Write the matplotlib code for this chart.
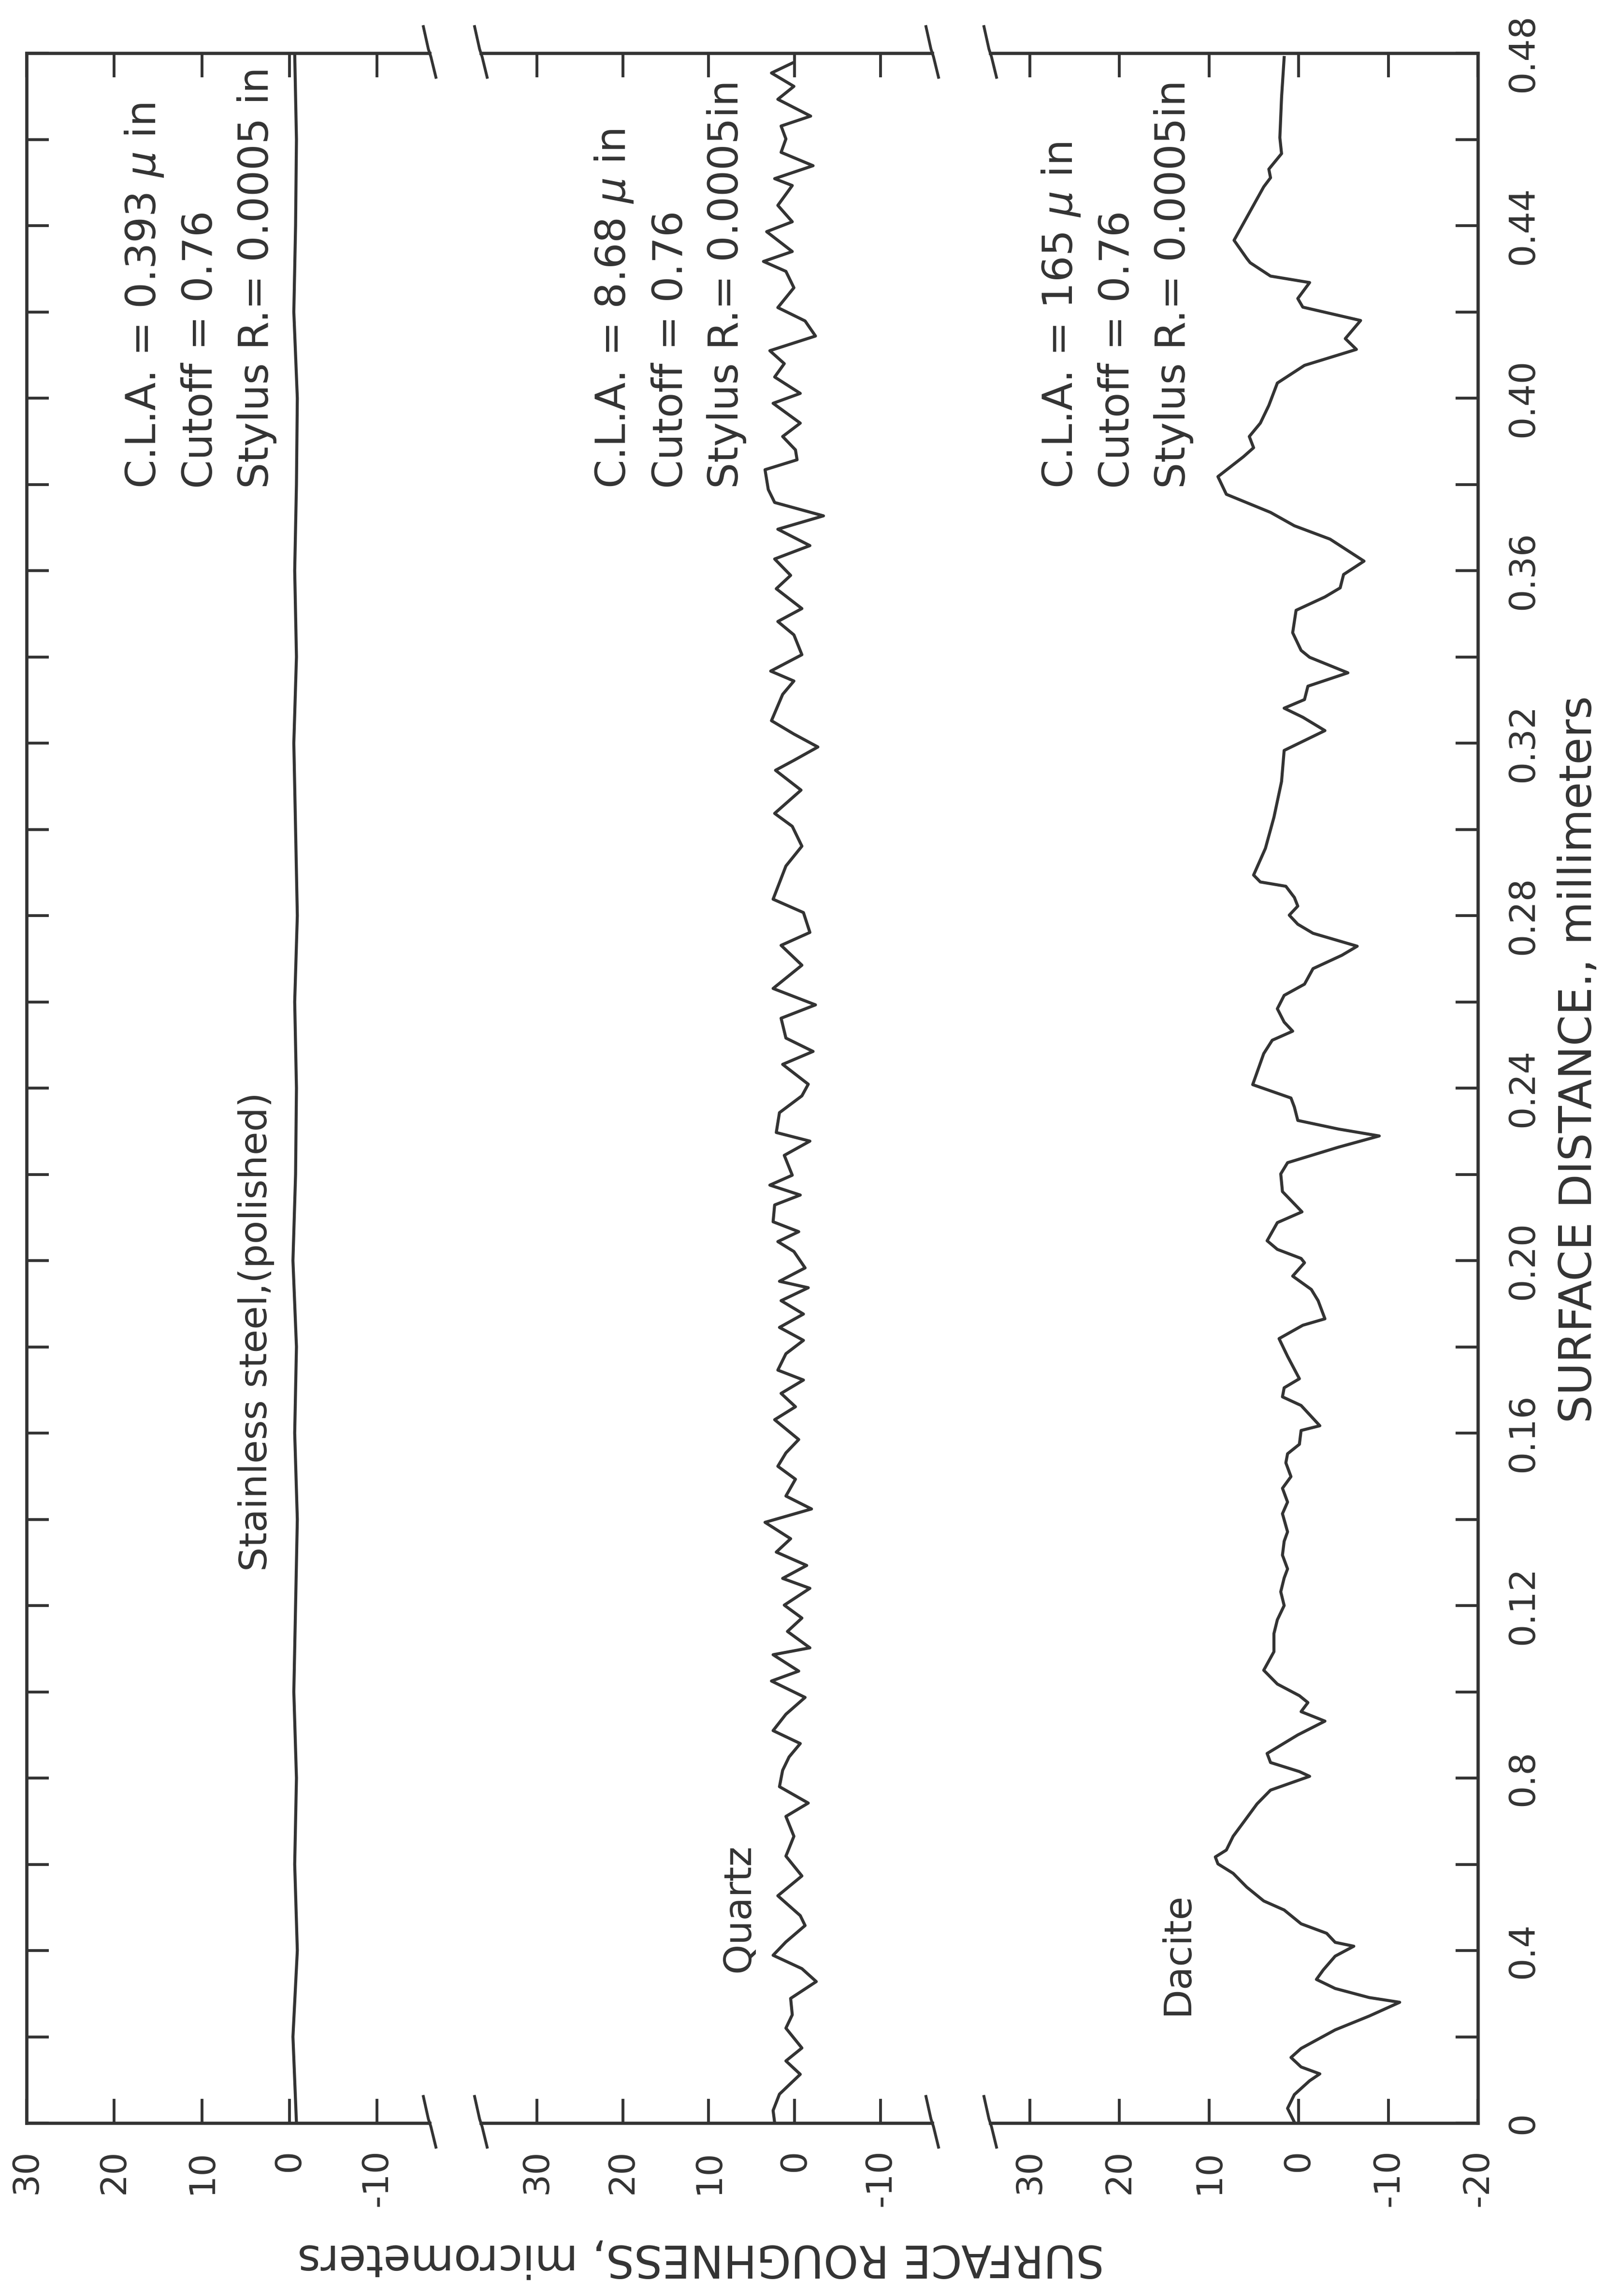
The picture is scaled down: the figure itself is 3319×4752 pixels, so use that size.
#!/usr/bin/env python

import matplotlib
matplotlib.use('Agg')
import matplotlib.pyplot as plt
from matplotlib.lines import Line2D


# surface profiles: distance along the surface (mm), roughness (micrometers)
steelDist = [0.00, 0.02, 0.04, 0.06, 0.08, 0.10, 0.12, 0.14, 0.16, 0.18,
             0.20, 0.22, 0.24, 0.26, 0.28, 0.30, 0.32, 0.34, 0.36, 0.38,
             0.40, 0.42, 0.44, 0.46, 0.48]
steelRough = [-0.8, -0.4, -0.9, -0.6, -0.8, -0.5, -0.7, -0.9, -0.6, -0.8,
              -0.4, -0.7, -0.8, -0.6, -0.9, -0.7, -0.5, -0.8, -0.6, -0.8,
              -0.9, -0.5, -0.7, -0.8, -0.6]

quartzDist = [0.4777, 0.4754, 0.4723, 0.4693, 0.4654, 0.4631, 0.4601, 0.4570,
              0.4539, 0.4509, 0.4493, 0.4447, 0.4409, 0.4386, 0.4340, 0.4317,
              0.4294, 0.4256, 0.4210, 0.4179, 0.4144, 0.4110, 0.4080, 0.4049,
              0.4011, 0.3988, 0.3942, 0.3911, 0.3880, 0.3857, 0.3834, 0.3788,
              0.3758, 0.3727, 0.3696, 0.3658, 0.3627, 0.3589, 0.3558, 0.3512,
              0.3482, 0.3451, 0.3405, 0.3367, 0.3344, 0.3313, 0.3252, 0.3221,
              0.3191, 0.3160, 0.3137, 0.3091, 0.3037, 0.3007, 0.2961, 0.2915,
              0.2838, 0.2807, 0.2761, 0.2731, 0.2685, 0.2631, 0.2593, 0.2562,
              0.2516, 0.2485, 0.2455, 0.2409, 0.2382, 0.2343, 0.2297, 0.2277,
              0.2244, 0.2198, 0.2175, 0.2152, 0.2129, 0.2090, 0.2067, 0.2044,
              0.2021, 0.1983, 0.1952, 0.1937, 0.1907, 0.1876, 0.1845, 0.1815,
              0.1784, 0.1746, 0.1723, 0.1692, 0.1661, 0.1631, 0.1585, 0.1554,
              0.1523, 0.1493, 0.1454, 0.1424, 0.1393, 0.1355, 0.1324, 0.1293,
              0.1263, 0.1240, 0.1201, 0.1171, 0.1140, 0.1102, 0.1086, 0.1048,
              0.1025, 0.0987, 0.0948, 0.0910, 0.0880, 0.0849, 0.0818, 0.0780,
              0.0742, 0.0711, 0.0665, 0.0619, 0.0573, 0.0527, 0.0481, 0.0458,
              0.0420, 0.0389, 0.0358, 0.0328, 0.0289, 0.0251, 0.0220, 0.0174,
              0.0144, 0.0113, 0.0067, 0.0029, 0.0001]
quartzRough = [0.28, 2.70, 0.09, 1.96, -1.86, 1.58, 1.02, 1.58,
               -2.14, 2.33, 0.28, 1.96, 0.28, 3.26, 0.28, 3.63,
               1.02, 0.09, 1.96, -1.21, -2.42, 2.89, 1.21, 2.33,
               -0.65, 2.51, -0.65, 1.40, -0.09, -0.28, 3.45, 3.07,
               2.33, -3.35, 1.96, -1.77, 2.33, 0.47, 2.14, -0.84,
               1.96, 0.09, -0.84, 2.79, 0.09, 1.40, 2.70, 0.09,
               -2.70, 0.09, 2.23, -0.74, 2.33, 0.28, -0.84, 1.02,
               2.51, -1.02, -1.77, 1.58, -0.84, 2.51, -2.42, 1.58,
               1.02, -2.14, 1.40, -1.58, -0.84, 1.77, 2.14, -1.77,
               1.21, 0.28, 2.89, -0.65, 2.33, 2.51, -0.47, 1.96,
               0.09, -1.21, 1.77, -1.58, 1.58, -1.02, 1.77, -1.02,
               1.02, 1.96, -1.02, 1.58, -0.09, 2.33, -0.47, 1.02,
               1.96, -0.09, 1.02, -1.96, 3.45, 0.47, 2.14, -1.40,
               1.40, -1.77, 1.21, -0.84, 0.84, -1.77, 2.51, -0.47,
               2.70, -1.21, 1.02, 2.51, -0.65, 0.65, 1.40, 1.77,
               -1.58, 1.02, 0.09, 1.02, -0.84, 1.96, -0.65, -1.21,
               1.02, 2.51, -0.84, -2.51, 0.47, 0.28, 1.02, -0.84,
               1.02, -0.65, 1.77, 2.51, 2.33]

daciteDist = [0.4790, 0.4697, 0.4604, 0.4567, 0.4531, 0.4511, 0.4490, 0.4366,
              0.4324, 0.4314, 0.4283, 0.4268, 0.4231, 0.4211, 0.4180, 0.4138,
              0.4113, 0.4076, 0.4035, 0.3983, 0.3942, 0.3911, 0.3885, 0.3864,
              0.3818, 0.3777, 0.3735, 0.3704, 0.3673, 0.3622, 0.3591, 0.3560,
              0.3539, 0.3508, 0.3456, 0.3415, 0.3399, 0.3363, 0.3332, 0.3301,
              0.3281, 0.3260, 0.3229, 0.3183, 0.3111, 0.3028, 0.2956, 0.2894,
              0.2878, 0.2868, 0.2842, 0.2822, 0.2801, 0.2780, 0.2759, 0.2729,
              0.2708, 0.2677, 0.2641, 0.2615, 0.2584, 0.2553, 0.2532, 0.2511,
              0.2480, 0.2408, 0.2377, 0.2356, 0.2325, 0.2305, 0.2289, 0.2263,
              0.2227, 0.2201, 0.2160, 0.2113, 0.2088, 0.2046, 0.2026, 0.2005,
              0.1995, 0.1964, 0.1933, 0.1907, 0.1865, 0.1850, 0.1819, 0.1778,
              0.1726, 0.1705, 0.1684, 0.1664, 0.1617, 0.1606, 0.1574, 0.1552,
              0.1531, 0.1499, 0.1472, 0.1440, 0.1413, 0.1371, 0.1349, 0.1317,
              0.1285, 0.1264, 0.1232, 0.1200, 0.1167, 0.1135, 0.1093, 0.1050,
              0.1018, 0.0991, 0.0975, 0.0954, 0.0932, 0.0900, 0.0857, 0.0836,
              0.0815, 0.0804, 0.0772, 0.0740, 0.0697, 0.0665, 0.0633, 0.0617,
              0.0601, 0.0579, 0.0547, 0.0515, 0.0494, 0.0462, 0.0440, 0.0419,
              0.0410, 0.0387, 0.0355, 0.0333, 0.0312, 0.0291, 0.0280, 0.0248,
              0.0216, 0.0173, 0.0152, 0.0130, 0.0114, 0.0098, 0.0066, 0.0034,
              0.0002]
daciteRough = [1.61, 1.90, 2.09, 1.90, 3.32, 3.13, 3.89, 7.20,
               5.78, 5.40, 3.13, -1.23, 0.09, -0.47, -6.92, -5.21,
               -6.45, -0.66, 2.37, 3.32, 4.27, 5.50, 5.02, 6.16,
               9.00, 8.06, 3.13, 0.47, -3.51, -7.30, -5.02, -4.64,
               -2.94, 0.28, 0.66, -0.28, -1.23, -5.50, -1.04, -0.66,
               1.61, -0.47, -2.94, 1.61, 1.90, 2.75, 3.70, 5.02,
               4.27, 1.42, 0.47, 0.09, 1.04, 0.09, -1.61, -6.54,
               -4.83, -1.61, -0.66, 1.61, 2.37, 1.61, 0.66, 2.94,
               3.89, 5.12, 0.85, 0.47, 0.09, -4.45, -9.00, -4.45,
               1.23, 1.99, 1.80, -0.38, 2.37, 3.51, 2.37, -0.28,
               -0.66, 0.66, -1.42, -2.18, -2.94, -0.47, 2.18, 1.23,
               -0.09, 1.61, 1.80, -0.28, -2.37, -0.28, -0.09, 1.23,
               1.42, 0.85, 1.80, 1.23, 1.80, 1.23, 1.61, 1.80,
               1.23, 1.61, 1.99, 1.61, 2.37, 2.75, 2.75, 3.89,
               2.37, -0.09, -1.04, -0.28, -2.94, 0.09, 3.51, 3.13,
               -0.09, -1.23, 3.13, 4.64, 6.16, 7.30, 8.06, 9.29,
               9.00, 7.30, 5.78, 3.89, 1.61, -0.28, -3.13, -4.08,
               -6.16, -4.08, -2.75, -1.99, -4.08, -7.87, -11.28, -7.87,
               -4.08, -0.28, 0.85, -0.28, -2.37, -1.23, 0.47, 1.23,
               0.47]

sampleNames = ['Stainless steel,(polished)', 'Quartz', 'Dacite']
sampleNotes = ['C.L.A. = 0.393 $\\mu$ in\nCutoff = 0.76\nStylus R.= 0.0005 in',
               'C.L.A. = 8.68 $\\mu$ in\nCutoff = 0.76\nStylus R.= 0.0005in',
               'C.L.A. = 165 $\\mu$ in\nCutoff = 0.76\nStylus R.= 0.0005in']
roughTicks = [[30, 20, 10, 0, -10],
              [30, 20, 10, 0, -10],
              [30, 20, 10, 0, -10, -20]]
distTicks = [0.0, 0.04, 0.08, 0.12, 0.16, 0.20, 0.24,
             0.28, 0.32, 0.36, 0.40, 0.44, 0.48]
distMinorTicks = [0.02, 0.06, 0.10, 0.14, 0.18, 0.22,
                  0.26, 0.30, 0.34, 0.38, 0.42, 0.46]
distTickLabels = ['0', '0.4', '0.8', '0.12', '0.16', '0.20', '0.24',
                  '0.28', '0.32', '0.36', '0.40', '0.44', '0.48']


def main():

    ink = '#333333'
    W, H = 3319, 4752
    plt.rcParams['font.family'] = 'DejaVu Sans'
    plt.rcParams['text.color'] = ink
    plt.rcParams['xtick.color'] = ink
    plt.rcParams['ytick.color'] = ink
    plt.rcParams['axes.edgecolor'] = ink

    fig = plt.figure(figsize=(W / 300, H / 300), dpi=300)

    # panel frames in pixels of the page: (left, right), shared bottom/top
    yBot = 1 - 4394 / H
    yTop = 1 - 110 / H
    panelPix = [(55, 889), (995, 1929), (2049, 3058)]
    roughLims = [(30, -16), (36.5, -16), (34.4, -20)]

    profiles = [(steelDist, steelRough),
                (quartzDist, quartzRough),
                (daciteDist, daciteRough)]
    namePos = [(3.8, 0.128), (6.5, 0.035), (13.5, 0.025)]
    notePos = [(10.2, 0.379), (14.5, 0.379), (20.3, 0.379)]

    axes = []
    for i, (x0, x1) in enumerate(panelPix):
        ax = fig.add_axes([x0 / W, yBot, (x1 - x0) / W, yTop - yBot])
        dist, rough = profiles[i]
        ax.plot(rough, dist, '-', color=ink, lw=1.5)
        ax.set_xlim(*roughLims[i])
        ax.set_ylim(0, 0.48)

        ax.set_xticks(roughTicks[i])
        ax.set_xticklabels([str(t) for t in roughTicks[i]])
        ax.tick_params(axis='x', direction='in', top=True, bottom=True,
                       length=12, width=1.4, labelsize=17.5, pad=13,
                       labelrotation=90)

        ax.set_yticks(distTicks)
        ax.set_yticks(distMinorTicks, minor=True)
        ax.tick_params(axis='y', which='both', direction='in', length=11,
                       width=1.4, left=False, right=False,
                       labelleft=False, labelright=False)

        for side in ['top', 'bottom', 'left', 'right']:
            ax.spines[side].set_linewidth(1.6)
        if i > 0:
            ax.spines['left'].set_visible(False)
        if i < 2:
            ax.spines['right'].set_visible(False)

        ax.text(namePos[i][0], namePos[i][1], sampleNames[i], rotation=90,
                ha='center', va='bottom', fontsize=19)
        ax.text(notePos[i][0], notePos[i][1], sampleNotes[i], rotation=90,
                ha='center', va='bottom', multialignment='left',
                fontsize=20.5, linespacing=1.5)
        axes.append(ax)
    # END for

    axes[0].tick_params(axis='y', which='both', left=True)
    axes[2].tick_params(axis='y', which='both', right=True, labelright=True,
                        labelsize=17.5, pad=14)
    axes[2].set_yticklabels(distTickLabels)
    for lbl in axes[2].get_yticklabels():
        lbl.set_rotation(90)
        lbl.set_verticalalignment('center')

    # break marks where the frame is cut between panels
    dx, dyUp, dyDown = 13 / W, 55 / H, 50 / H
    breakEdges = [panelPix[0][1], panelPix[1][0], panelPix[1][1], panelPix[2][0]]
    for xe in breakEdges:
        xf = xe / W
        for yf in (yBot, yTop):
            fig.add_artist(Line2D([xf - dx, xf - dx * 0.2, xf + dx * 0.2, xf + dx],
                                  [yf + dyUp, yf + dyUp * 0.15, yf - dyDown * 0.15, yf - dyDown],
                                  transform=fig.transFigure, color=ink, lw=1.4))

    fig.text(1450 / W, 1 - 4672 / H, 'SURFACE ROUGHNESS, micrometers',
             rotation=180, ha='center', va='center', fontsize=22)
    fig.text(3267 / W, 1 - 2945 / H, 'SURFACE DISTANCE., millimeters',
             rotation=90, ha='center', va='bottom', fontsize=22)

    fig.savefig('out.png', dpi=300, facecolor='white')
# END main()


if __name__ == '__main__':
    main()
